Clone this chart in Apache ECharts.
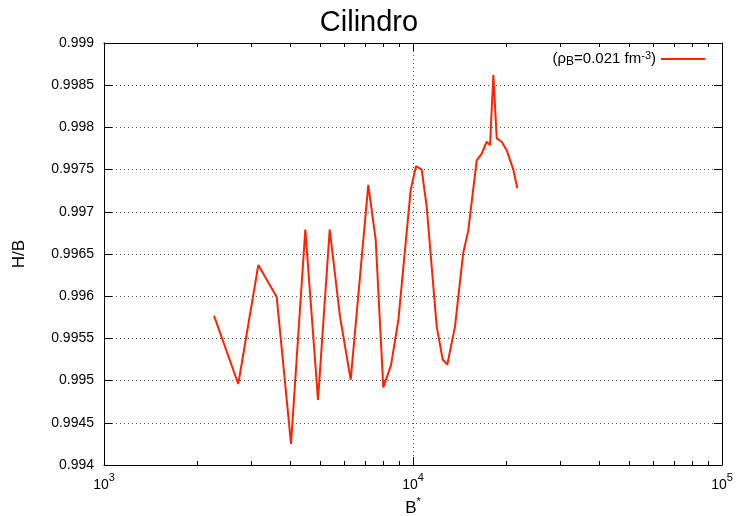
<!DOCTYPE html>
<html>
<head>
<meta charset="utf-8">
<script src="https://cdn.jsdelivr.net/npm/echarts@6/dist/echarts.min.js"></script>
<style>
  html, body { margin: 0; padding: 0; background: #fff; }
  #chart { width: 738px; height: 516px; }
</style>
</head>
<body>
<div id="chart"></div>
<script>
// Magnetic field B* (log scale) and the ratio H/B for the cylinder phase
const bStar = [2270, 2720, 3158, 3622, 4029, 4482, 4927, 5376, 5804, 6286,
  7166, 7573, 8014, 8486, 8968, 9829, 10226, 10670, 11074, 11932,
  12478, 12912, 13674, 14535, 15100, 16075, 16686, 17319, 17752, 18197,
  18663, 19370, 20100, 21120, 21760];
const hOverB = [0.99577, 0.99496, 0.99637, 0.99599, 0.99425, 0.99679, 0.99477, 0.99679, 0.99576, 0.99501,
  0.99732, 0.99667, 0.99492, 0.99518, 0.99572, 0.99726, 0.99754, 0.99750, 0.99706, 0.99564,
  0.99525, 0.99519, 0.99564, 0.99651, 0.99678, 0.99761, 0.99769, 0.99783, 0.99779, 0.99862,
  0.99787, 0.99783, 0.99773, 0.99750, 0.99728];
const yTicks = { min: 0.994, max: 0.999, step: 0.0005 };
const xDecades = { min: 1000, max: 100000 };

const FONT = 'Liberation Sans, Arial, Helvetica, sans-serif';
const chart = echarts.init(document.getElementById('chart'));

const gridLine = { show: true, lineStyle: { color: '#555', type: [1, 3], width: 1 } };

chart.setOption({
  animation: false,
  backgroundColor: '#fff',
  textStyle: { fontFamily: FONT, color: '#000' },
  title: {
    text: 'Cilindro', left: 'center', top: 3,
    textStyle: { fontFamily: FONT, fontSize: 29, fontWeight: 'normal', color: '#000' }
  },
  grid: { left: 104, right: 16, top: 43, bottom: 51, outerBoundsMode: 'none' },
  legend: {
    right: 28, top: 45, align: 'right',
    icon: 'rect', itemWidth: 44, itemHeight: 2, itemGap: 6,
    formatter: () => '{t|(ρ}{sub|B}{t|=0.021 fm}{sup|-3}{t|)}',
    textStyle: {
      fontFamily: FONT, color: '#000',
      rich: {
        t: { fontSize: 15, fontFamily: FONT, color: '#000' },
        sub: { fontSize: 12, fontFamily: FONT, color: '#000', verticalAlign: 'bottom', padding: [6, 0, 0, 0] },
        sup: { fontSize: 11, fontFamily: FONT, color: '#000', verticalAlign: 'top', padding: [0, 0, 6, 0] }
      }
    }
  },
  xAxis: [{
    type: 'log', logBase: 10, min: xDecades.min, max: xDecades.max,
    name: '{b|B}{s|*}', nameLocation: 'middle', nameGap: 28,
    nameTextStyle: {
      rich: {
        b: { fontSize: 17, fontFamily: FONT, color: '#000' },
        s: { fontSize: 11, fontFamily: FONT, color: '#000', verticalAlign: 'top', padding: [0, 0, 12, 0] }
      }
    },
    axisLine: { show: true, lineStyle: { color: '#000', width: 1 } },
    axisTick: { show: true, inside: true, length: 8, lineStyle: { color: '#000' } },
    axisLabel: {
      margin: 7,
      formatter: v => '{b|10}{s|' + Math.round(Math.log10(v)) + '}',
      rich: {
        b: { fontSize: 14, fontFamily: FONT, color: '#000', padding: [6, 0, 0, 0] },
        s: { fontSize: 11, fontFamily: FONT, color: '#000', verticalAlign: 'top', padding: [0, 0, 0, 0] }
      }
    },
    splitLine: gridLine
  }, {
    type: 'log', logBase: 10, min: xDecades.min, max: xDecades.max, position: 'top',
    axisLine: { show: true, lineStyle: { color: '#000', width: 1 } },
    axisTick: { show: true, inside: true, length: 8, lineStyle: { color: '#000' } },
    axisLabel: { show: false }, splitLine: { show: false }
  }],
  yAxis: [{
    type: 'value', min: yTicks.min, max: yTicks.max, interval: yTicks.step,
    name: 'H/B', nameLocation: 'middle', nameGap: 76, nameRotate: 90,
    nameTextStyle: { fontSize: 17, fontFamily: FONT, color: '#000' },
    axisLine: { show: true, lineStyle: { color: '#000', width: 1 } },
    axisTick: { show: true, inside: true, length: 8, lineStyle: { color: '#000' } },
    axisLabel: { fontSize: 14, fontFamily: FONT, color: '#000', margin: 10 },
    splitLine: gridLine
  }, {
    type: 'value', min: yTicks.min, max: yTicks.max, interval: yTicks.step, position: 'right',
    axisLine: { show: true, lineStyle: { color: '#000', width: 1 } },
    axisTick: { show: true, inside: true, length: 8, lineStyle: { color: '#000' } },
    axisLabel: { show: false }, splitLine: { show: false }
  }],
  series: [{
    name: 'rho', type: 'line',
    data: bStar.map((b, i) => [b, hOverB[i]]),
    showSymbol: false, symbol: 'none',
    lineStyle: { color: '#ff2200', width: 2 },
    itemStyle: { color: '#ff2200' },
    z: 5
  }]
});

// Minor log ticks (2..9 in each decade) on bottom and top frame edges
const yBottom = chart.convertToPixel({ yAxisIndex: 0 }, yTicks.min);
const yTop = chart.convertToPixel({ yAxisIndex: 0 }, yTicks.max);
const minorTicks = [];
for (let d = xDecades.min; d < xDecades.max; d *= 10) {
  for (let m = 2; m <= 9; m++) {
    const x = Math.round(chart.convertToPixel({ xAxisIndex: 0 }, m * d)) + 0.5;
    minorTicks.push({ type: 'line', shape: { x1: x, y1: yBottom, x2: x, y2: yBottom - 4 }, style: { stroke: '#000', lineWidth: 1 } });
    minorTicks.push({ type: 'line', shape: { x1: x, y1: yTop, x2: x, y2: yTop + 4 }, style: { stroke: '#000', lineWidth: 1 } });
  }
}
chart.setOption({ graphic: minorTicks });
</script>
</body>
</html>
